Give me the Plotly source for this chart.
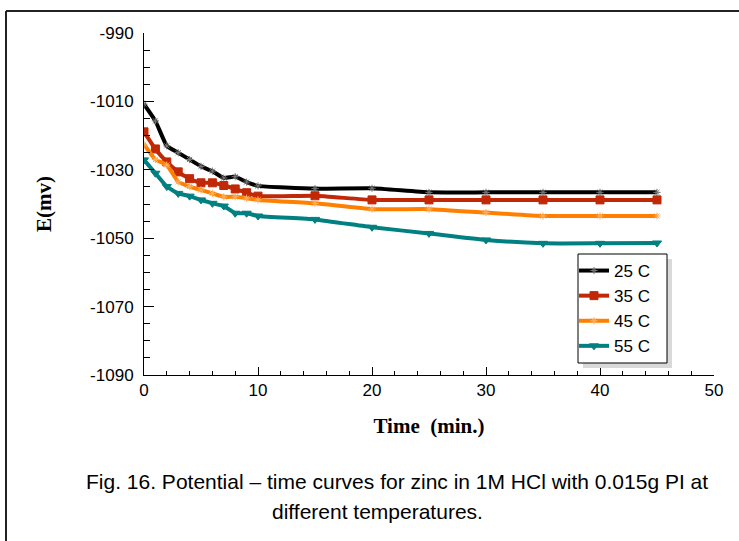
import plotly.graph_objects as go

# time (min.)
time = [0, 1, 2, 3, 4, 5, 6, 7, 8, 9, 10, 15, 20, 25, 30, 35, 40, 45]

# potential (mV) at each temperature
e_25 = [-1010.8, -1015.7, -1023.0, -1025.0, -1027.0, -1029.0, -1030.4, -1032.4, -1032.0,
        -1033.6, -1034.7, -1035.5, -1035.4, -1036.6, -1036.6, -1036.6, -1036.6, -1036.6]
e_35 = [-1018.9, -1023.9, -1027.7, -1030.6, -1032.6, -1033.8, -1033.8, -1034.6, -1035.6,
        -1036.7, -1037.7, -1037.6, -1038.8, -1038.8, -1038.8, -1038.8, -1038.8, -1038.8]
e_45 = [-1022.5, -1027.0, -1028.6, -1033.5, -1034.9, -1035.9, -1036.9, -1037.9, -1037.9,
        -1038.3, -1038.8, -1039.8, -1041.5, -1041.5, -1042.5, -1043.5, -1043.5, -1043.5]
e_55 = [-1027.1, -1031.0, -1034.9, -1036.9, -1037.7, -1038.8, -1039.8, -1040.6, -1042.7,
        -1042.7, -1043.5, -1044.5, -1046.8, -1048.6, -1050.5, -1051.5, -1051.5, -1051.4]

y_ticks = [-1090, -1070, -1050, -1030, -1010, -990]
y_ticktext = ["-1090", "-1070", "-1050", "-1030", "-1010", "-990"]

series = [
    ("25 C", e_25, "#000000", dict(symbol="asterisk-open", size=6, color="#777777")),
    ("35 C", e_35, "#C02808", dict(symbol="square", size=8, color="#C02808")),
    ("45 C", e_45, "#FF8000", dict(symbol="asterisk-open", size=6, color="#FFB060")),
    ("55 C", e_55, "#008080", dict(symbol="triangle-down", size=8, color="#008080")),
]

fig = go.Figure()
for name, vals, col, mk in series:
    fig.add_trace(go.Scatter(
        x=time, y=vals, name=name, mode="lines+markers",
        line=dict(color=col, width=4, shape="spline", smoothing=0.4),
        marker=dict(line=dict(color=mk["color"], width=1), **mk),
    ))

# plot area in pixels: x 144..714, y 33..375
W, H = 739, 541
L, R, T, B = 144, 714, 33, 375


def px(x):
    return (x - L) / (R - L)


def py(y):
    return (B - y) / (B - T)


shapes = [
    # outer frame (left + top)
    dict(type="line", xref="paper", yref="paper", x0=px(6), x1=px(6), y0=py(11), y1=py(545),
         line=dict(color="#222222", width=2)),
    dict(type="line", xref="paper", yref="paper", x0=px(6), x1=px(745), y0=py(11), y1=py(11),
         line=dict(color="#222222", width=2)),
    # legend shadow + box
    dict(type="rect", xref="paper", yref="paper", x0=px(583), x1=px(672), y0=py(259), y1=py(368),
         fillcolor="#D9D9D9", line=dict(width=0), layer="above"),
    dict(type="rect", xref="paper", yref="paper", x0=px(578), x1=px(667), y0=py(254), y1=py(363),
         fillcolor="white", line=dict(color="black", width=1), layer="above"),
]

fig.update_layout(
    width=W, height=H,
    margin=dict(l=L, r=W - R, t=T, b=H - B),
    paper_bgcolor="white", plot_bgcolor="white",
    font=dict(family="Liberation Sans, Arial", size=17, color="black"),
    showlegend=True,
    legend=dict(x=px(574), y=py(253), xanchor="left", yanchor="top",
                bgcolor="rgba(0,0,0,0)", borderwidth=0,
                font=dict(size=17), itemwidth=30, tracegroupgap=0),
    shapes=shapes,
    annotations=[
        dict(text="Fig. 16. Potential \u2013 time curves for zinc in 1M HCl with 0.015g PI at",
             xref="paper", yref="paper", x=px(397), y=py(481), xanchor="center", yanchor="middle",
             showarrow=False, font=dict(size=21)),
        dict(text="different temperatures.",
             xref="paper", yref="paper", x=px(377), y=py(511), xanchor="center", yanchor="middle",
             showarrow=False, font=dict(size=21)),
    ],
)

fig.update_xaxes(
    range=[0, 50], dtick=10, showgrid=False, zeroline=False,
    showline=True, linecolor="black", linewidth=1,
    ticks="inside", ticklen=8, tickcolor="black",
    minor=dict(dtick=2, ticks="inside", ticklen=4, tickcolor="black"),
    tickfont=dict(size=17),
    title=dict(text="<b>Time  (min.)</b>", font=dict(family="Liberation Serif, Times New Roman", size=21),
               standoff=18),
)
fig.update_yaxes(
    range=[-1090, -990], tickvals=y_ticks, ticktext=y_ticktext, showgrid=False, zeroline=False,
    showline=True, linecolor="black", linewidth=1,
    ticks="inside", ticklen=10, tickcolor="black",
    minor=dict(dtick=5, tick0=-1090, ticks="inside", ticklen=6, tickcolor="black"),
    tickfont=dict(size=17), ticklabelstandoff=6,
    title=dict(text="<b>E(mv)</b>", font=dict(family="Liberation Serif, Times New Roman", size=21),
               standoff=32),
)

# page has a default 8px body margin; remove it so the figure sits at the window origin
fig.write_html("out.html", config={"displayModeBar": False},
               post_script="document.body.style.margin='0px';")
